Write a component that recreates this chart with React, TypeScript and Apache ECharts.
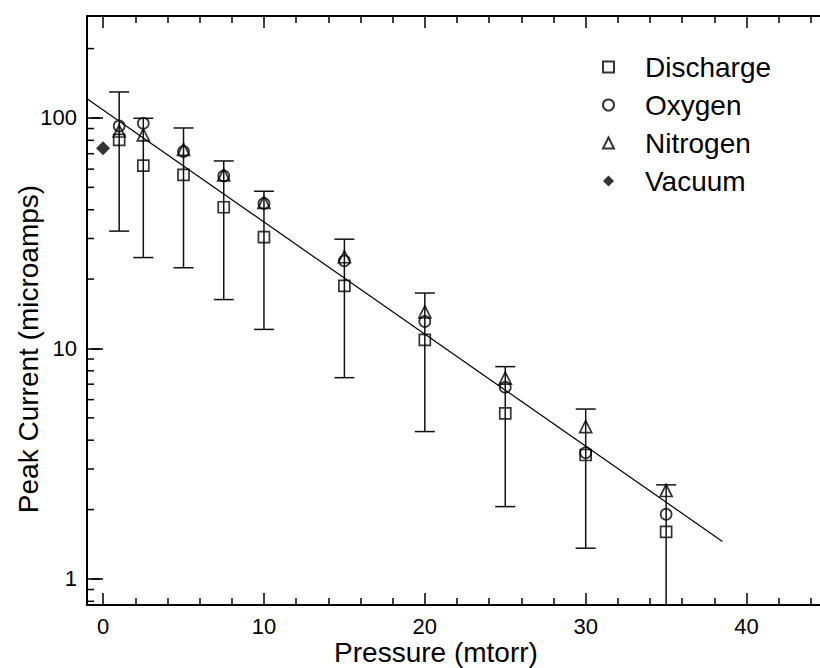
import React, { useEffect, useRef } from 'react';
import * as echarts from 'echarts';

// Pressure (mtorr) of the gas measurements
const pressures = [1, 2.5, 5, 7.5, 10, 15, 20, 25, 30, 35];
// Peak current (microamps)
const discharge = [80.3, 62.1, 56.6, 41.0, 30.4, 18.7, 10.9, 5.23, 3.45, 1.6];
const oxygen = [92.3, 94.8, 71.5, 56.0, 42.6, 24.0, 13.1, 6.79, 3.53, 1.91];
const nitrogen = [87.8, 84.4, 73.1, 56.6, 43.0, 25.0, 14.4, 7.43, 4.58, 2.42];
const vacuumPressure = [0];
const vacuum = [73.9];
// Error bars around discharge
const errLow = [32.3, 24.8, 22.4, 16.3, 12.1, 7.47, 4.36, 2.06, 1.36, 0.63];
const errHigh = [129.7, 99.7, 90.5, 65.1, 48.1, 29.8, 17.4, 8.34, 5.46, 2.56];
// Exponential fit line end points
const fitX = [-1, 38.5];
const fitY = [121.2, 1.455];
// Axes
const xMin = -1;
const xMax = 45;
const yMin = 0.771;
const yMax = 277;
const yMinorTicks = [0.8, 0.9, 2, 3, 4, 5, 6, 7, 8, 9, 20, 30, 40, 50, 60, 70, 80, 90, 200];
const seriesNames = ['Discharge', 'Oxygen', 'Nitrogen', 'Vacuum'];

export default function App() {
  const ref = useRef<HTMLDivElement>(null);
  useEffect(() => {
    const chart = echarts.init(ref.current as HTMLDivElement, null, { renderer: 'svg' });
    const font = '"Liberation Sans", Arial, Helvetica, sans-serif';
    const black = '#000';
    const hollow = { color: 'rgba(255,255,255,0)', borderColor: black, borderWidth: 1.7 };
    const axisLine = { show: true, onZero: false, lineStyle: { color: black, width: 2 } };
    const tick = { show: true, inside: true, length: 12, lineStyle: { color: black, width: 1.5 } };
    const minor = { show: true, splitNumber: 5, length: 7, lineStyle: { color: black, width: 1.5 } };
    const label = { color: black, fontSize: 22, fontFamily: font, margin: 10, showMinLabel: false, showMaxLabel: false };
    const toPairs = (xs: number[], ys: number[]) => xs.map((x, i) => [x, ys[i]]);

    chart.setOption({
      animation: false,
      grid: { left: 87, top: 16, width: 740, height: 589, outerBoundsMode: 'none', containLabel: false, show: false },
      xAxis: [
        { type: 'value', min: xMin, max: xMax, position: 'bottom', axisLine, axisTick: tick, minorTick: minor,
          axisLabel: label, splitLine: { show: false }, minorSplitLine: { show: false } },
        { type: 'value', min: xMin, max: xMax, position: 'top', axisLine, axisTick: tick, minorTick: minor,
          axisLabel: { show: false }, splitLine: { show: false }, minorSplitLine: { show: false } },
      ],
      yAxis: [
        { type: 'log', logBase: 10, min: yMin, max: yMax, position: 'left', axisLine,
          axisTick: { ...tick, length: 13 }, axisLabel: label, splitLine: { show: false } },
        { type: 'log', logBase: 10, min: yMin, max: yMax, position: 'right',
          axisLine: { show: false },
          axisTick: { show: true, inside: true, length: 12, lineStyle: { color: black, width: 1.5 } },
          axisLabel: { show: false }, splitLine: { show: false } },
      ],
      legend: {
        data: seriesNames,
        orient: 'vertical',
        left: 602,
        top: 53,
        padding: 0,
        itemWidth: 11,
        itemHeight: 11,
        itemGap: 10,
        textStyle: { color: black, fontSize: 28, fontFamily: font, padding: [0, 0, 0, 26] },
      },
      graphic: [
        { type: 'text', x: 436, y: 652, style: { text: 'Pressure (mtorr)', fill: black, fontSize: 28, fontFamily: font, align: 'center', verticalAlign: 'middle' } },
        { type: 'text', x: 28, y: 349, rotation: Math.PI / 2, style: { text: 'Peak Current (microamps)', fill: black, fontSize: 28, fontFamily: font, align: 'center', verticalAlign: 'middle' } },
      ],
      series: [
        {
          name: 'yMinor', type: 'custom', xAxisIndex: 0, yAxisIndex: 0, silent: true, clip: false,
          data: yMinorTicks.map((v) => [xMin, v]),
          renderItem: (params: any, api: any) => {
            const p = api.coord([api.value(0), api.value(1)]);
            return { type: 'line', shape: { x1: p[0], y1: p[1], x2: p[0] + 7, y2: p[1] }, style: { stroke: black, lineWidth: 1.5 } };
          },
        },
        {
          name: 'errorBars', type: 'custom', xAxisIndex: 0, yAxisIndex: 0, silent: true, clip: true,
          encode: { x: 0, y: [1, 2] },
          data: pressures.map((x, i) => [x, errLow[i], errHigh[i]]),
          renderItem: (params: any, api: any) => {
            const x = api.value(0);
            const bot = api.coord([x, api.value(1)]);
            const top = api.coord([x, api.value(2)]);
            const hw = 10;
            const style = { stroke: '#111', lineWidth: 1.5 };
            return {
              type: 'group',
              children: [
                { type: 'line', shape: { x1: top[0], y1: top[1], x2: bot[0], y2: bot[1] }, style },
                { type: 'line', shape: { x1: top[0] - hw, y1: top[1], x2: top[0] + hw, y2: top[1] }, style },
                { type: 'line', shape: { x1: bot[0] - hw, y1: bot[1], x2: bot[0] + hw, y2: bot[1] }, style },
              ],
            };
          },
        },
        {
          name: 'fit', type: 'line', data: toPairs(fitX, fitY), showSymbol: false, symbol: 'none',
          lineStyle: { color: black, width: 1.2 }, silent: true,
        },
        { name: 'Discharge', type: 'scatter', symbol: 'rect', symbolSize: 11, data: toPairs(pressures, discharge), itemStyle: hollow },
        { name: 'Oxygen', type: 'scatter', symbol: 'circle', symbolSize: 11, data: toPairs(pressures, oxygen), itemStyle: hollow },
        { name: 'Nitrogen', type: 'scatter', symbol: 'triangle', symbolSize: 12, data: toPairs(pressures, nitrogen), itemStyle: hollow },
        { name: 'Vacuum', type: 'scatter', symbol: 'diamond', symbolSize: 14, data: toPairs(vacuumPressure, vacuum), itemStyle: { color: black } },
      ],
    });
    return () => chart.dispose();
  }, []);
  return (
    <div style={{ position: 'fixed', left: 0, top: 0, width: 820, height: 668, overflow: 'hidden', background: '#fff' }}>
      <div ref={ref} style={{ width: 820, height: 668 }} />
    </div>
  );
}
